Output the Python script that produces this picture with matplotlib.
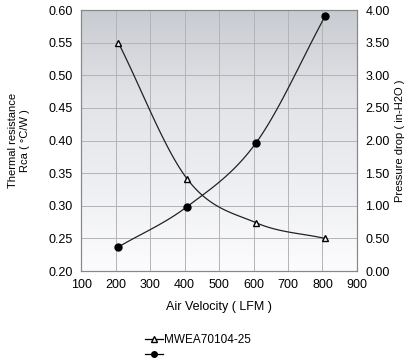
import numpy as np
import matplotlib
matplotlib.use("Agg")
import matplotlib.pyplot as plt
from matplotlib.lines import Line2D

plt.rcParams['font.family'] = ['Liberation Sans', 'DejaVu Sans']

# data
air_velocity = [208, 408, 608, 808]
thermal_res = [0.55, 0.341, 0.274, 0.25]
pressure_drop = [0.37, 0.99, 1.97, 3.91]
x_ticks = [100, 200, 300, 400, 500, 600, 700, 800, 900]
left_ticks = [0.20, 0.25, 0.30, 0.35, 0.40, 0.45, 0.50, 0.55, 0.60]
right_ticks = [0.0, 0.5, 1.0, 1.5, 2.0, 2.5, 3.0, 3.5, 4.0]
series_name = "MWEA70104-25"


def smooth(xs, ys, n=40):
    # catmull-rom curve through the points, only for drawing the line
    xs = np.asarray(xs, float)
    ys = np.asarray(ys, float)
    px = np.concatenate([[2 * xs[0] - xs[1]], xs, [2 * xs[-1] - xs[-2]]])
    py = np.concatenate([[2 * ys[0] - ys[1]], ys, [2 * ys[-1] - ys[-2]]])
    out_x, out_y = [], []
    t = np.linspace(0, 1, n)
    for i in range(1, len(px) - 2):
        for arr, out in ((px, out_x), (py, out_y)):
            p0, p1, p2, p3 = arr[i - 1], arr[i], arr[i + 1], arr[i + 2]
            out.extend(0.5 * (2 * p1 + (-p0 + p2) * t
                              + (2 * p0 - 5 * p1 + 4 * p2 - p3) * t ** 2
                              + (-p0 + 3 * p1 - 3 * p2 + p3) * t ** 3))
    return np.array(out_x), np.array(out_y)


fig = plt.figure(figsize=(4.16, 3.61), dpi=100)
ax = fig.add_axes([0.195, 0.249, 0.663, 0.723])

# grey-to-white background gradient
grad = np.linspace(0, 1, 256).reshape(-1, 1)
cmap = matplotlib.colors.LinearSegmentedColormap.from_list(
    "bg", ["#fcfcfe", "#eeeff2", "#e2e3e7", "#c8cbd1"])
ax.imshow(grad, aspect='auto', cmap=cmap, origin='lower',
          extent=[100, 900, 0.20, 0.60], zorder=0)

ax.set_xlim(100, 900)
ax.set_ylim(0.20, 0.60)
ax.set_xticks(x_ticks)
ax.set_yticks(left_ticks)
ax.set_yticklabels([f"{v:.2f}" for v in left_ticks])
ax.grid(True, color='#b4b4b4', linewidth=0.7, zorder=1)
ax.tick_params(length=0, labelsize=9, pad=6)
for s in ax.spines.values():
    s.set_color('#888888')

ax2 = ax.twinx()
ax2.set_ylim(0, 4)
ax2.set_yticks(right_ticks)
ax2.set_yticklabels([f"{v:.2f}" for v in right_ticks])
ax2.tick_params(length=0, labelsize=9, pad=6)
for s in ax2.spines.values():
    s.set_color('#888888')

sx, sy = smooth(air_velocity, thermal_res)
ax.plot(sx, sy, color='#222222', linewidth=0.9, zorder=3)
ax.plot(air_velocity, thermal_res, linestyle='none', marker='^',
        markersize=4.5, markerfacecolor='white', markeredgecolor='black',
        markeredgewidth=1, zorder=4)

px, py = smooth(air_velocity, pressure_drop)
ax2.plot(px, py, color='#222222', linewidth=0.9, zorder=3)
ax2.plot(air_velocity, pressure_drop, linestyle='none', marker='o',
         markersize=5, color='black', zorder=4)

ax.set_xlabel("Air Velocity ( LFM )", fontsize=9, labelpad=7)
fig.text(0.045, 0.61, "Thermal resistance\nRca ( °C/W )", rotation=90,
         ha='center', va='center', fontsize=8, linespacing=1.2)
fig.text(0.962, 0.61, "Pressure drop ( in-H2O )", rotation=90,
         ha='center', va='center', fontsize=8)

handles = [
    Line2D([], [], color='black', linewidth=0.9, marker='^', markersize=4,
           markerfacecolor='white', markeredgecolor='black'),
    Line2D([], [], color='black', linewidth=0.9, marker='o', markersize=4),
]
fig.legend(handles, [series_name, ""], loc='upper left',
           bbox_to_anchor=(0.335, 0.092), frameon=False, fontsize=8.5,
           handlelength=1.5, handletextpad=0.1, labelspacing=0.25,
           borderpad=0)

fig.savefig("out.png", dpi=100)
